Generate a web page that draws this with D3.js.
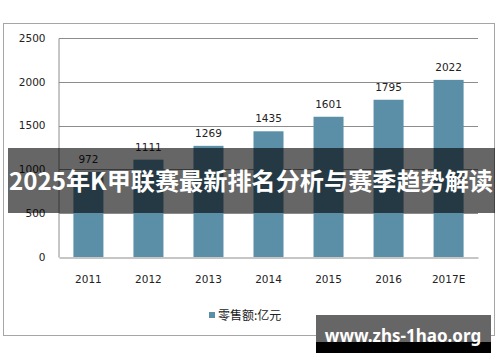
<!DOCTYPE html>
<html lang="zh">
<head>
<meta charset="utf-8">
<title>零售额</title>
<style>
    body { margin: 0; background: #fff; }
    svg { display: block; }
    .tick text { font-family: "DejaVu Sans", sans-serif; font-size: 10.5px; fill: #222; }
</style>
</head>
<body>
<div id="chart"></div>
<script src="https://cdn.jsdelivr.net/npm/d3@7"></script>
<script>

var years = [ "2011" , "2012" , "2013" , "2014" , "2015" , "2016" , "2017E" ];
var values = [ 972 , 1111 , 1269 , 1435 , 1601 , 1795 , 2022 ];
var yTicks = [ 0 , 500 , 1000 , 1500 , 2000 , 2500 ];
var seriesName = "零售额:亿元";
var title = "2025年K甲联赛最新排名分析与赛季趋势解读";
var watermark = "www.zhs-1hao.org";

var width = 500 , height = 362;
var plotLeft = 59 , plotRight = 478 , plotTop = 38 , plotBottom = 257;

var svg = d3.select( "#chart" ).append( "svg" )
    .attr( "width" , width )
    .attr( "height" , height );

// outer frame
svg.append( "rect" )
    .attr( "x" , 3.5 ).attr( "y" , 23.5 )
    .attr( "width" , 491 ).attr( "height" , 312 )
    .attr( "fill" , "none" ).attr( "stroke" , "#a6a6a6" );

var x = d3.scaleBand().domain( years ).range( [ plotLeft , plotRight ] )
    .paddingInner( 0.5 ).paddingOuter( 0.24 );
var y = d3.scaleLinear().domain( [ 0 , 2500 ] ).range( [ plotBottom , plotTop ] );

// gridlines
svg.append( "g" )
    .selectAll( "line" )
    .data( yTicks.slice( 1 ) )
    .enter().append( "line" )
        .attr( "x1" , plotLeft ).attr( "x2" , plotRight )
        .attr( "y1" , function( d ) { return Math.round( y( d ) ) + 0.5; } )
        .attr( "y2" , function( d ) { return Math.round( y( d ) ) + 0.5; } )
        .attr( "stroke" , "#8c8c8c" );

var yAxis = svg.append( "g" )
    .attr( "transform" , "translate(" + ( plotLeft - 0.5 ) + ",0)" )
    .call( d3.axisLeft( y ).tickValues( yTicks ).tickFormat( d3.format( "d" ) ).tickSize( 0 ).tickPadding( 13 ) );
yAxis.select( ".domain" ).attr( "stroke" , "#8c8c8c" );

var xAxis = svg.append( "g" )
    .attr( "transform" , "translate(0," + ( plotBottom + 0.5 ) + ")" )
    .call( d3.axisBottom( x ).tickSize( 0 ).tickPadding( 18 ) );
xAxis.select( ".domain" ).attr( "stroke" , "#8c8c8c" );

// bars
svg.append( "g" )
    .selectAll( "rect" )
    .data( values )
    .enter().append( "rect" )
        .attr( "x" , function( d , i ) { return x( years[i] ); } )
        .attr( "width" , x.bandwidth() )
        .attr( "y" , function( d ) { return y( d ); } )
        .attr( "height" , function( d ) { return plotBottom - y( d ); } )
        .attr( "fill" , "#5b8fa8" );

svg.append( "g" )
    .selectAll( "text" )
    .data( values )
    .enter().append( "text" )
        .attr( "x" , function( d , i ) { return x( years[i] ) + x.bandwidth() / 2; } )
        .attr( "y" , function( d ) { return y( d ) - 9; } )
        .attr( "text-anchor" , "middle" )
        .style( "font-family" , "DejaVu Sans, sans-serif" )
        .style( "font-size" , "10.5px" )
        .style( "fill" , "#222" )
        .text( function( d ) { return d; } );

// legend
var legend = svg.append( "g" ).attr( "transform" , "translate(209,312)" );
legend.append( "rect" )
    .attr( "width" , 6 ).attr( "height" , 6 )
    .attr( "fill" , "#5b8fa8" );
legend.append( "text" )
    .attr( "x" , 9 ).attr( "y" , 8 )
    .style( "font-family" , "Noto Sans CJK SC, sans-serif" )
    .style( "font-size" , "12px" )
    .style( "fill" , "#222" )
    .text( seriesName );

// title band overlay
svg.append( "rect" )
    .attr( "x" , 8 ).attr( "y" , 148 )
    .attr( "width" , 487 ).attr( "height" , 65 )
    .attr( "fill" , "rgba(0,0,0,0.6)" );
svg.append( "text" )
    .attr( "x" , 251 ).attr( "y" , 190 )
    .attr( "text-anchor" , "middle" )
    .attr( "textLength" , 484 )
    .attr( "lengthAdjust" , "spacingAndGlyphs" )
    .style( "font-family" , "Noto Sans CJK SC, sans-serif" )
    .style( "font-weight" , "bold" )
    .style( "font-size" , "24px" )
    .style( "fill" , "#fff" )
    .text( title );

// watermark
svg.append( "rect" )
    .attr( "x" , 316 ).attr( "y" , 315 )
    .attr( "width" , 175 ).attr( "height" , 38 )
    .attr( "fill" , "#000" );
svg.append( "rect" )
    .attr( "x" , 316 ).attr( "y" , 315 )
    .attr( "width" , 175 ).attr( "height" , 27 )
    .attr( "fill" , "#666" );
svg.append( "text" )
    .attr( "x" , 403 ).attr( "y" , 342 )
    .attr( "text-anchor" , "middle" )
    .style( "font-family" , "Noto Sans, sans-serif" )
    .style( "font-weight" , "bold" )
    .style( "font-size" , "17px" )
    .style( "fill" , "#fff" )
    .text( watermark );

</script>
</body>
</html>
